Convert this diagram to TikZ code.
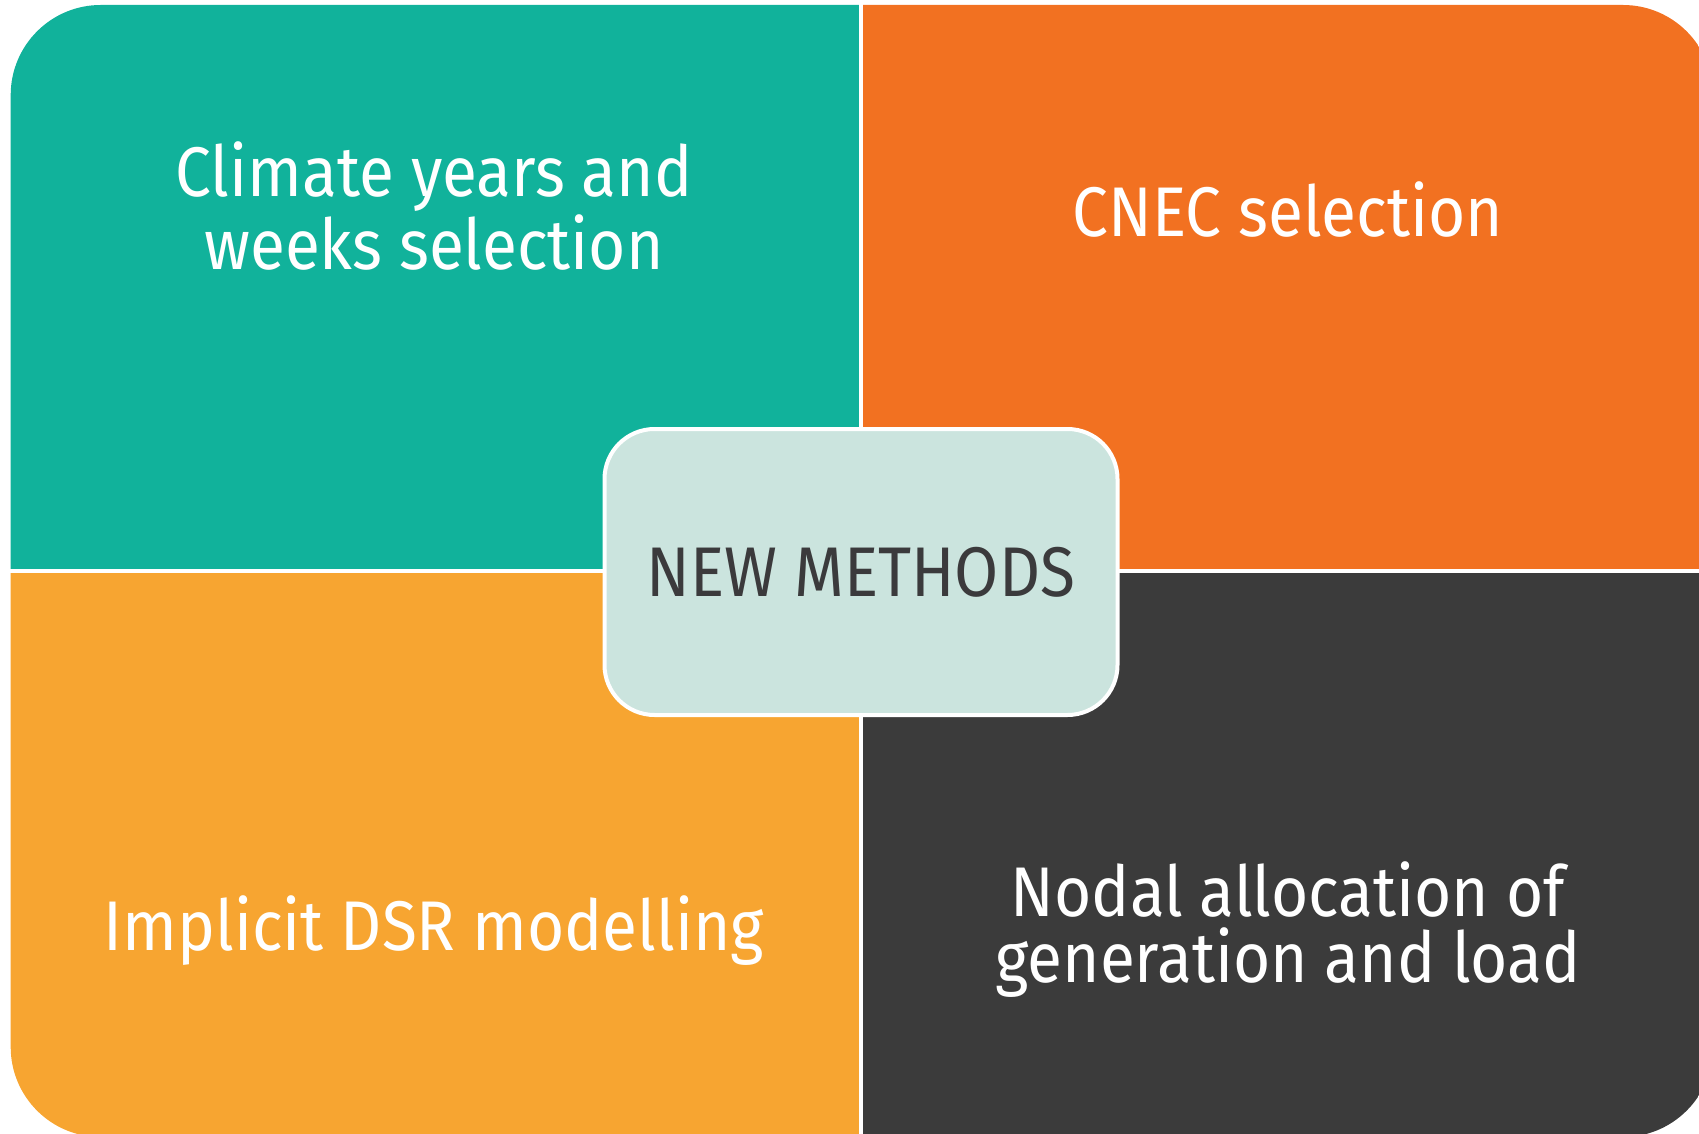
\documentclass[tikz,border=0pt]{standalone}
\usepackage{fontspec}
\setmainfont[FakeStretch=0.91]{Fira Sans}
\usetikzlibrary{positioning}
\definecolor{quadteal}  {RGB}{17,178,155}
\definecolor{quadorange}{RGB}{242,113,33}
\definecolor{quadamber} {RGB}{247,165,49}
\definecolor{quaddark}  {RGB}{59,59,59}
\definecolor{hubmint}   {RGB}{203,228,222}
\definecolor{hubgray}   {RGB}{59,58,60}

\begin{document}
\begin{tikzpicture}[
  x=0.1mm,y=-0.1mm,
  quadtext/.style={font=\fontsize{20}{18.6}\selectfont,text=white,align=center,inner sep=0pt},
  hubbox/.style={draw=white,line width=0.4mm,fill=hubmint,rounded corners=5mm,
                 minimum width=51.3mm,minimum height=28.6mm,
                 font=\fontsize{20}{18.6}\selectfont,text=hubgray},
  divider/.style={white,line width=0.4mm},
]
\useasboundingbox (0,0) rectangle (1699,1134);

%% ── Four quadrants in one rounded frame ─────────────────────────────────────
\begin{scope}
  \clip (0,0) rectangle (1699,1134);
  \clip[rounded corners=9mm] (10.7,5) rectangle (1713,1137);
  \fill[quadteal]   (0,0)     rectangle (861,571);
  \fill[quadorange] (861,0)   rectangle (1720,571);
  \fill[quadamber]  (0,571)   rectangle (861,1140);
  \fill[quaddark]   (861,571) rectangle (1720,1140);
\end{scope}

%% dividers
\draw[divider] (861,0) -- (861,1134);
\draw[divider] (0,571) -- (1699,571);

%% ── Quadrant labels ─────────────────────────────────────────────────────────
\node[quadtext,anchor=base] (clim) at (434,270) {Climate years and\\weeks selection};
\node[quadtext,anchor=base] (cnec) at (1288,237) {CNEC selection};
\node[quadtext,anchor=base] (impl) at (434,950) {Implicit DSR modelling};
\node[quadtext,anchor=base] (noda) at (1288,982) {Nodal allocation of\\generation and load};

%% ── Centre box ──────────────────────────────────────────────────────────────
\node[hubbox] (hub) at (861,572) {NEW METHODS};

\end{tikzpicture}
\end{document}
